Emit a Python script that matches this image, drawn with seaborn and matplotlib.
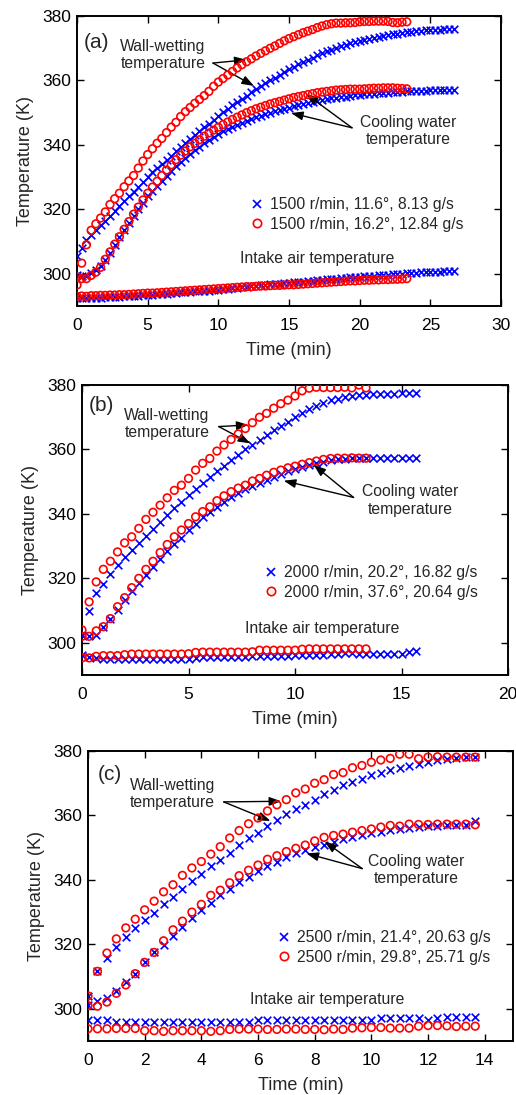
import numpy as np
import matplotlib
matplotlib.use("Agg")
import matplotlib.pyplot as plt
import seaborn as sns
from matplotlib.lines import Line2D

sns.set_theme(style="ticks")
plt.rcParams["font.family"] = ["Liberation Sans", "DejaVu Sans"]

# ---------------- data (sampling interval: 20 s = 1/3 min) ----------------
SAMPLE_MIN = 1.0 / 3.0

# Panel (a) 1500 r/min
a_blue_wall = [305.5, 308.0, 310.5, 312.0, 313.5, 315.0, 316.5, 318.0, 319.5, 321.0,
               322.5, 324.0, 325.5, 327.0, 328.5, 330.0, 331.5, 332.8, 334.0, 335.3,
               336.6, 338.0, 339.3, 340.6, 341.8, 343.0, 344.2, 345.4, 346.6, 347.8,
               349.0, 350.1, 351.2, 352.3, 353.3, 354.3, 355.3, 356.3, 357.3, 358.2,
               359.1, 360.0, 360.9, 361.8, 362.6, 363.4, 364.2, 365.0, 365.7, 366.4,
               367.1, 367.8, 368.4, 369.0, 369.6, 370.1, 370.6, 371.1, 371.5, 371.9,
               372.3, 372.6, 373.0, 373.3, 373.6, 373.9, 374.1, 374.3, 374.5, 374.7,
               374.9, 375.1, 375.3, 375.4, 375.5, 375.6, 375.7, 375.8, 375.9, 376.0, 376.0]
a_blue_cool = [299.5, 299.2, 299.3, 300.3, 301.2, 302.5, 304.2, 306.5, 309.0, 311.3,
               313.5, 315.8, 318.0, 320.0, 322.0, 324.0, 325.7, 327.3, 328.9, 330.4,
               331.9, 333.3, 334.7, 336.0, 337.2, 338.3, 339.4, 340.5, 341.5, 342.5,
               343.4, 344.2, 344.9, 345.6, 346.3, 346.9, 347.5, 348.1, 348.6, 349.1,
               349.6, 350.0, 350.4, 350.8, 351.2, 351.6, 352.0, 352.4, 352.7, 353.0,
               353.3, 353.6, 353.9, 354.2, 354.4, 354.6, 354.8, 355.0, 355.2, 355.4,
               355.5, 355.7, 355.8, 355.9, 356.0, 356.1, 356.2, 356.3, 356.4, 356.5,
               356.6, 356.7, 356.7, 356.8, 356.8, 356.9, 356.9, 357.0, 357.0, 357.0, 357.1]
a_blue_air = [292.5, 292.4, 292.4, 292.5, 292.5, 292.6, 292.7, 292.8, 292.8, 292.9,
              293.0, 293.0, 293.1, 293.2, 293.3, 293.4, 293.5, 293.6, 293.7, 293.8,
              294.0, 294.1, 294.2, 294.3, 294.4, 294.5, 294.6, 294.7, 294.8, 294.9,
              295.0, 295.2, 295.3, 295.5, 295.6, 295.8, 296.0, 296.1, 296.3, 296.4,
              296.5, 296.7, 296.8, 296.9, 297.0, 297.2, 297.3, 297.5, 297.6, 297.7,
              297.9, 298.0, 298.1, 298.3, 298.4, 298.5, 298.6, 298.8, 298.9, 299.0,
              299.1, 299.2, 299.3, 299.4, 299.5, 299.6, 299.7, 299.8, 299.9, 300.0,
              300.1, 300.2, 300.3, 300.4, 300.5, 300.6, 300.7, 300.7, 300.8, 300.9, 301.0]
a_red_wall = [296.5, 303.3, 309.0, 313.5, 315.5, 317.3, 319.2, 321.5, 323.3, 325.0,
              327.0, 328.8, 330.5, 332.8, 335.0, 337.0, 338.8, 340.5, 342.0, 343.8,
              345.5, 347.0, 348.8, 350.3, 351.6, 352.9, 354.1, 355.3, 356.6, 358.2,
              359.5, 360.6, 361.7, 362.8, 363.9, 364.9, 365.8, 366.7, 367.6, 368.4,
              369.2, 370.0, 370.7, 371.5, 372.3, 373.0, 373.6, 374.2, 374.8, 375.3,
              375.8, 376.4, 376.9, 377.3, 377.6, 377.8, 377.8, 377.9, 377.9, 378.0,
              378.2, 378.3, 378.3, 378.4, 378.4, 378.4, 378.3, 378.0, 377.9, 378.1, 378.2]
a_red_cool = [299.0, 298.5, 298.5, 299.5, 300.5, 302.0, 304.5, 306.8, 309.2, 311.5,
              313.8, 316.2, 318.5, 320.7, 322.9, 325.0, 326.9, 328.7, 330.5, 332.2,
              333.8, 335.4, 336.8, 338.1, 339.4, 340.5, 341.6, 342.7, 343.7, 344.6,
              345.5, 346.3, 347.1, 347.9, 348.6, 349.3, 350.0, 350.6, 351.2, 351.7,
              352.2, 352.7, 353.1, 353.5, 353.9, 354.3, 354.7, 355.0, 355.3, 355.6,
              355.9, 356.2, 356.4, 356.6, 356.8, 357.0, 357.1, 357.2, 357.3, 357.3,
              357.3, 357.4, 357.5, 357.6, 357.6, 357.7, 357.7, 357.7, 357.6, 357.5, 357.4]
a_red_air = [293.0, 293.1, 293.0, 293.2, 293.2, 293.3, 293.3, 293.4, 293.4, 293.5,
             293.5, 293.6, 293.7, 293.8, 293.9, 294.0, 294.0, 294.1, 294.2, 294.3,
             294.4, 294.5, 294.6, 294.7, 294.8, 294.9, 295.0, 295.1, 295.2, 295.3,
             295.4, 295.5, 295.6, 295.7, 295.8, 295.9, 296.0, 296.0, 296.1, 296.2,
             296.2, 296.3, 296.4, 296.4, 296.5, 296.6, 296.6, 296.7, 296.8, 296.9,
             297.0, 297.1, 297.2, 297.3, 297.4, 297.5, 297.6, 297.7, 297.8, 297.8,
             297.9, 298.0, 298.0, 298.1, 298.1, 298.2, 298.2, 298.3, 298.3, 298.4, 298.5]

# Panel (b) 2000 r/min
b_blue_wall = [302.5, 310.0, 315.3, 318.2, 321.2, 324.0, 326.5, 328.7, 331.0, 333.1,
               335.3, 337.5, 339.6, 341.7, 343.8, 346.0, 347.8, 349.7, 351.5, 353.2,
               355.0, 356.6, 358.2, 360.0, 361.5, 363.0, 364.5, 366.0, 367.2, 368.6,
               370.0, 371.3, 372.5, 373.5, 374.4, 375.2, 375.8, 376.3, 376.6, 376.8,
               377.0, 377.1, 377.2, 377.3, 377.3, 377.4, 377.5, 377.5]
b_blue_cool = [302.4, 302.0, 302.5, 305.0, 307.5, 310.3, 313.4, 316.0, 318.4, 321.0,
               323.5, 326.0, 328.4, 330.5, 332.6, 335.0, 337.0, 339.0, 340.7, 342.2,
               343.8, 345.2, 346.5, 347.6, 348.7, 349.7, 350.6, 351.5, 352.4, 353.2,
               353.9, 354.6, 355.2, 355.7, 356.2, 356.6, 356.9, 357.1, 357.2, 357.2,
               357.2, 357.2, 357.2, 357.2, 357.2, 357.2, 357.2, 357.3]
b_blue_air = [296.1, 295.5, 295.2, 295.0, 294.9, 294.9, 294.9, 294.9, 294.9, 294.9,
              294.9, 294.9, 294.9, 294.9, 294.9, 295.0, 295.3, 295.5, 295.6, 295.6,
              295.6, 295.6, 295.6, 295.6, 295.8, 295.8, 295.8, 296.0, 296.0, 296.0,
              296.2, 296.2, 296.3, 296.3, 296.3, 296.5, 296.6, 296.7, 296.7, 296.5,
              296.5, 296.4, 296.4, 296.5, 296.6, 296.5, 297.0, 297.3]
b_red_wall = [304.0, 312.7, 318.9, 322.8, 325.3, 328.2, 331.0, 332.9, 335.5, 338.3,
              340.5, 342.7, 345.0, 347.3, 348.9, 351.0, 353.6, 355.7, 357.2, 359.5,
              361.4, 363.1, 364.8, 366.5, 368.3, 370.0, 371.2, 372.8, 374.2, 375.3,
              376.6, 378.2, 379.0, 379.3, 379.2, 379.2, 379.2, 379.3, 379.1, 380.0, 379.1]
b_red_cool = [302.0, 302.0, 303.7, 305.0, 307.5, 311.2, 314.0, 317.1, 320.0, 322.8,
              325.3, 328.0, 330.5, 332.9, 335.0, 337.0, 339.1, 340.7, 342.2, 344.1,
              345.6, 346.9, 348.0, 348.9, 350.2, 351.0, 352.0, 352.9, 353.6, 354.3,
              354.8, 355.4, 355.9, 356.4, 356.9, 357.2, 357.3, 357.3, 357.4, 357.3, 357.3]
b_red_air = [295.3, 295.3, 295.8, 296.0, 296.0, 296.0, 296.3, 296.5, 296.5, 296.5,
             296.5, 296.5, 296.5, 296.5, 296.5, 296.6, 297.0, 297.1, 297.1, 297.1,
             297.1, 297.1, 297.1, 297.1, 297.2, 297.7, 297.7, 297.7, 297.7, 297.7,
             297.7, 298.0, 298.1, 298.1, 298.1, 298.1, 298.1, 298.1, 298.1, 298.1, 298.1]

# Panel (c) 2500 r/min
c_blue_wall = [304.0, 311.6, 315.9, 319.3, 322.2, 325.1, 327.4, 329.7, 332.4, 334.7,
               337.3, 339.7, 341.8, 344.3, 346.1, 348.4, 350.8, 352.9, 354.7, 356.8,
               358.6, 360.4, 362.0, 363.3, 364.9, 366.5, 367.8, 369.3, 370.3, 371.4,
               372.4, 373.2, 374.1, 374.8, 375.3, 376.0, 376.6, 377.2, 377.6, 377.9,
               378.0, 378.0]
c_blue_cool = [301.1, 302.4, 303.4, 305.5, 308.4, 310.9, 314.4, 317.5, 319.9, 322.7,
               325.5, 328.2, 330.7, 332.9, 335.2, 337.3, 339.2, 340.9, 342.7, 344.4,
               345.6, 347.2, 348.2, 349.2, 350.1, 350.8, 351.7, 352.6, 353.2, 354.0,
               354.5, 355.0, 355.5, 355.8, 356.1, 356.3, 356.6, 356.8, 357.0, 357.1,
               357.1, 358.3]
c_blue_air = [296.5, 296.5, 296.5, 296.0, 296.0, 295.8, 295.8, 295.8, 295.8, 295.8,
              295.8, 295.8, 295.8, 296.0, 296.0, 296.0, 295.8, 296.0, 296.5, 296.5,
              296.5, 296.5, 296.5, 296.5, 296.5, 296.5, 296.5, 296.5, 296.5, 296.5,
              296.5, 297.1, 297.1, 297.1, 297.1, 297.1, 296.6, 297.0, 297.6, 297.6,
              297.3, 297.6]
c_red_wall = [304.0, 311.6, 317.3, 321.7, 325.1, 327.8, 330.7, 333.4, 336.3, 338.5,
              341.4, 343.7, 345.7, 348.0, 350.3, 353.0, 355.3, 357.4, 359.2, 361.4,
              363.3, 364.9, 367.0, 368.2, 370.0, 371.1, 372.7, 373.3, 374.8, 375.5,
              376.5, 377.2, 377.7, 379.0, 379.0, 377.6, 378.1, 378.2, 378.1, 378.1,
              378.1, 378.1]
c_red_cool = [301.0, 300.8, 302.1, 304.8, 307.4, 310.9, 314.4, 317.5, 321.1, 324.5,
              327.2, 330.0, 332.4, 335.2, 336.8, 339.1, 341.3, 343.0, 344.6, 346.4,
              347.5, 348.8, 349.8, 350.8, 352.1, 353.2, 353.8, 354.2, 354.8, 355.3,
              355.8, 356.4, 356.9, 356.7, 357.3, 357.2, 357.2, 357.3, 357.3, 357.3,
              357.3, 357.1]
c_red_air = [293.8, 293.8, 293.8, 293.9, 293.9, 293.9, 293.2, 293.2, 293.0, 293.2,
             293.2, 293.2, 293.2, 293.0, 293.2, 293.6, 293.7, 293.7, 293.7, 293.6,
             293.6, 293.7, 293.7, 293.6, 293.6, 293.5, 293.7, 293.6, 294.0, 294.1,
             294.2, 294.2, 294.0, 294.0, 294.0, 294.6, 294.8, 294.8, 294.7, 294.5,
             294.6, 294.6]

legend_a = ["1500 r/min, 11.6°, 8.13 g/s", "1500 r/min, 16.2°, 12.84 g/s"]
legend_b = ["2000 r/min, 20.2°, 16.82 g/s", "2000 r/min, 37.6°, 20.64 g/s"]
legend_c = ["2500 r/min, 21.4°, 20.63 g/s", "2500 r/min, 29.8°, 25.71 g/s"]

BLUE = "#0000FF"
RED = "#FF0000"
W, H = 516, 1095

fig = plt.figure(figsize=(W / 100, H / 100), dpi=100)


def axes_px(left, top, right, bottom):
    return fig.add_axes([left / W, 1 - bottom / H, (right - left) / W, (bottom - top) / H])


panels = [
    dict(rect=(77, 16, 501, 306), tag="(a)", tagpos=(0.017, 0.909),
         blue=[a_blue_wall, a_blue_cool, a_blue_air], red=[a_red_wall, a_red_cool, a_red_air],
         xlim=(0, 30), xticks=np.arange(0, 31, 5), legend=legend_a, legpos=(0.406, 0.316),
         wall=(6.08, 367.9), wall_tail=(9.62, 365.4), wall_heads=[(12.0, 366.4), (12.52, 358.3)],
         cool=(23.42, 344.3), cool_tail=(19.46, 345.3), cool_heads=[(16.2, 355.8), (15.14, 349.9)],
         air=(17.0, 304.7)),
    dict(rect=(82, 385, 508, 675), tag="(b)", tagpos=(0.016, 0.931),
         blue=[b_blue_wall, b_blue_cool, b_blue_air], red=[b_red_wall, b_red_cool, b_red_air],
         xlim=(0, 20), xticks=np.arange(0, 21, 5), legend=legend_b, legpos=(0.425, 0.319),
         wall=(3.99, 367.9), wall_tail=(6.42, 367.1), wall_heads=[(7.82, 367.6), (7.9, 361.9)],
         cool=(15.43, 344.2), cool_tail=(12.75, 345.1), cool_heads=[(10.88, 355.2), (9.47, 350.3)],
         air=(11.27, 304.4)),
    dict(rect=(88, 751, 513, 1041), tag="(c)", tagpos=(0.022, 0.92),
         blue=[c_blue_wall, c_blue_cool, c_blue_air], red=[c_red_wall, c_red_cool, c_red_air],
         xlim=(0, 15), xticks=np.arange(0, 15, 2), legend=legend_c, legpos=(0.442, 0.322),
         wall=(2.98, 366.7), wall_tail=(4.79, 364.2), wall_heads=[(6.82, 364.4), (6.44, 358.3)],
         cool=(11.6, 343.0), cool_tail=(9.68, 343.5), cool_heads=[(8.35, 351.9), (7.71, 348.2)],
         air=(8.44, 302.9)),
]

ANN_FS = 11.3
arrow_kw = dict(arrowstyle="-|>,head_length=0.6,head_width=0.22", color="black",
                lw=1.0, mutation_scale=12, shrinkA=0, shrinkB=0)

for p in panels:
    ax = axes_px(*p["rect"])
    for vals in p["blue"]:
        t = np.arange(len(vals)) * SAMPLE_MIN
        sns.scatterplot(x=t, y=vals, ax=ax, marker="x", color=BLUE, s=30,
                        linewidth=1.2, legend=False, zorder=3)
    for vals in p["red"]:
        t = np.arange(len(vals)) * SAMPLE_MIN
        sns.scatterplot(x=t, y=vals, ax=ax, marker="o", s=30, facecolor="none",
                        edgecolor=RED, linewidth=1.2, legend=False, zorder=4)

    ax.set_xlim(*p["xlim"])
    ax.set_ylim(290, 380)
    ax.set_xticks(p["xticks"])
    ax.set_yticks([300, 320, 340, 360, 380])
    ax.tick_params(direction="in", top=True, right=True, length=5, width=1.0,
                   labelsize=12.5, colors="black")
    ax.tick_params(axis="x", pad=8.5)
    ax.tick_params(axis="y", pad=4)
    for sp in ax.spines.values():
        sp.set_visible(True)
        sp.set_linewidth(1.4)
        sp.set_color("black")
    ax.set_xlabel("Time (min)", fontsize=13, labelpad=6.5)
    ax.set_ylabel("Temperature (K)", fontsize=13, labelpad=6)
    ax.set_facecolor("white")

    ax.text(p["tagpos"][0], p["tagpos"][1], p["tag"], transform=ax.transAxes,
            fontsize=15, ha="left", va="center")

    ax.text(*p["wall"], "Wall-wetting\ntemperature", fontsize=ANN_FS, ha="center",
            va="center", linespacing=1.2)
    for hd in p["wall_heads"]:
        ax.annotate("", xy=hd, xytext=p["wall_tail"], arrowprops=arrow_kw)
    ax.text(*p["cool"], "Cooling water\ntemperature", fontsize=ANN_FS, ha="center",
            va="center", linespacing=1.2)
    for hd in p["cool_heads"]:
        ax.annotate("", xy=hd, xytext=p["cool_tail"], arrowprops=arrow_kw)
    ax.text(*p["air"], "Intake air temperature", fontsize=ANN_FS, ha="center", va="center")

    handles = [
        Line2D([], [], marker="x", color=BLUE, ls="none", ms=6, mew=1.2),
        Line2D([], [], marker="o", mfc="none", mec=RED, ls="none", ms=6, mew=1.2),
    ]
    ax.legend(handles, p["legend"], loc="center left", bbox_to_anchor=p["legpos"],
              frameon=False, fontsize=ANN_FS, handlelength=1.0, handletextpad=0.35,
              borderpad=0, borderaxespad=0, labelspacing=0.3)

fig.savefig("out.png", dpi=100, facecolor="white")
